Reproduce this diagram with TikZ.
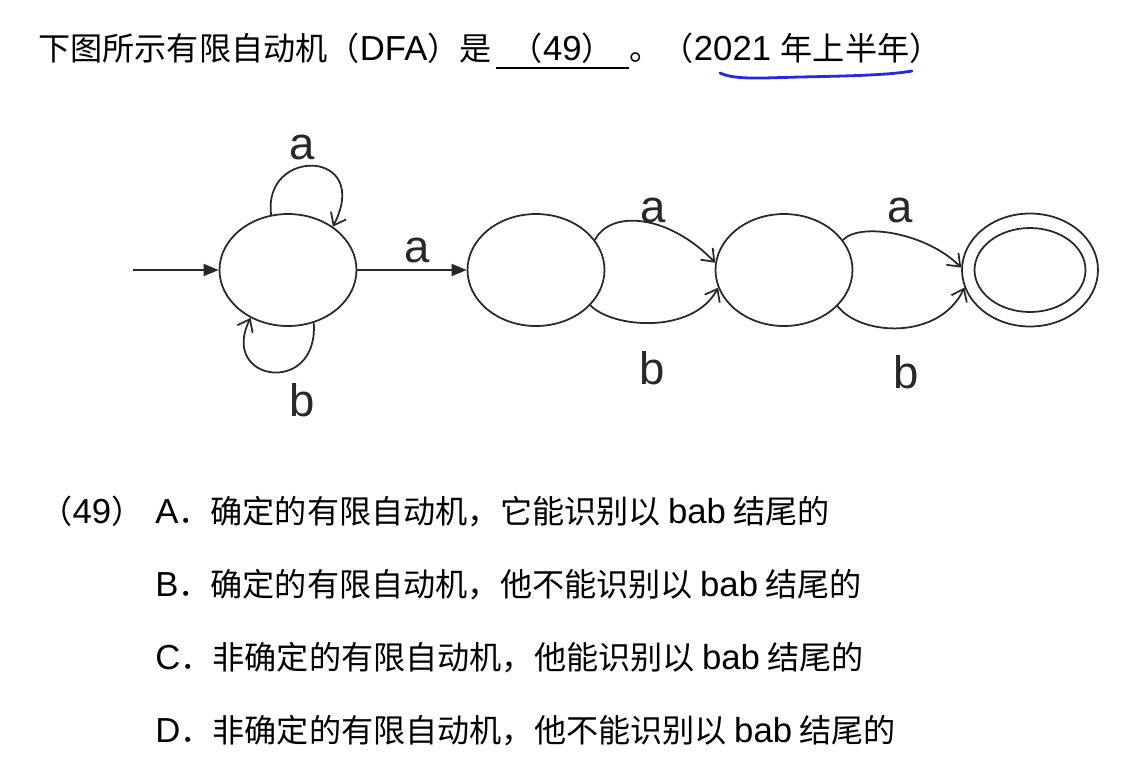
\documentclass[tikz,border=0pt]{standalone}
\usepackage{fontspec}
\setmainfont{Liberation Sans}[Scale=1.08]
\newfontfamily\cjk{Noto Sans CJK SC}
\newcommand{\zh}[1]{{\cjk #1}}
\usetikzlibrary{arrows.meta, shapes.geometric}
\definecolor{inkgray}{RGB}{40, 40, 40}
\definecolor{penblue}{RGB}{40, 40, 225}

\begin{document}
\begin{tikzpicture}[x=0.02cm, y=-0.02cm,
			txt/.style={inner sep=0pt, anchor=base west, font=\fontsize{18.3}{22}\selectfont},
			state/.style={ellipse, draw=inkgray, line width=1pt, minimum width=2.74cm, minimum height=2.24cm, inner sep=0pt},
			lbl/.style={inner sep=0pt, text=inkgray, font=\fontsize{24}{28}\selectfont},
			arrfill/.style={-{Triangle[length=3mm, width=2.4mm]}, line width=1pt, draw=inkgray},
			arropen/.style={-{Straight Barb[length=2.2mm, width=3.4mm]}, line width=1pt, draw=inkgray}
		]
		\useasboundingbox (0,0) rectangle (1138,775);
		
		% Question line
		\node[txt] (qhead) at (38,60) {\zh{下图所示有限自动机（}DFA\zh{）是}};
		\node[txt, minimum width=2.66cm] (qblank) at ([xshift=2pt]qhead.base east) {\zh{（}49\zh{）}};
		\draw[line width=1.3pt] ([yshift=-4.5pt]qblank.base west) -- ([yshift=-4.5pt]qblank.base east);
		\node[txt] (qtail) at (qblank.base east) {\zh{。（}2021 \zh{年上半年）}};
		\draw[penblue, line width=1.6pt, line cap=round] (720,73) .. controls (735,80) and (760,78) .. (800,77) .. controls (850,76) and (890,75) .. (912,71);
		
		% States
		\node[state] (s0) at (288,270) {};
		\node[state] (s1) at (536,270) {};
		\node[state] (s2) at (784,270) {};
		\node[state, minimum width=2.72cm, minimum height=2.26cm] (s3) at (1030,270) {};
		\node[state, minimum width=2.22cm, minimum height=1.68cm] (s3in) at (s3.center) {};
		
		% Transitions
		\coordinate (entry) at (133,270);
		\draw[arrfill] (entry) -- (s0);
		\draw[arrfill] (s0) -- (s1);
		\draw[arropen] (s0.107) .. controls +(-9,-68) and +(40,-78) .. (s0.44);
		\draw[arropen] (s0.-64) .. controls +(5,74) and +(-32,64) .. (s0.-128);
		\draw[arropen] (s1.27) .. controls +(16,-31) and +(-46,-48) .. (s2.174);
		\draw[arropen] (s1.-33) .. controls +(22,23) and +(-25,47) .. (s2.195);
		\draw[arropen] (s2.27) .. controls +(17,-18) and +(-35,-35) .. (s3.178);
		\draw[arropen] (s2.-34) .. controls +(23,30) and +(-25,53) .. (s3.195);
		
		% Transition labels
		\node[lbl] (la00) at (302,147) {a};
		\node[lbl] (lb00) at (302,400) {b};
		\node[lbl] (la01) at (417,250) {a};
		\node[lbl] (la12) at (653,210) {a};
		\node[lbl] (lb12) at (652,368) {b};
		\node[lbl] (la23) at (900,210) {a};
		\node[lbl] (lb23) at (906,372) {b};
		
		% Answer options
		\node[txt] (qnum) at (40,523) {\zh{（}49\zh{）}};
		\node[txt] (optA) at (155,523) {A\zh{．确定的有限自动机，它能识别以 }bab\zh{ 结尾的}};
		\node[txt] (optB) at (155,596) {B\zh{．确定的有限自动机，他不能识别以 }bab\zh{ 结尾的}};
		\node[txt] (optC) at (155,669) {C\zh{．非确定的有限自动机，他能识别以 }bab\zh{ 结尾的}};
		\node[txt] (optD) at (155,742) {D\zh{．非确定的有限自动机，他不能识别以 }bab\zh{ 结尾的}};
\end{tikzpicture}
\end{document}
